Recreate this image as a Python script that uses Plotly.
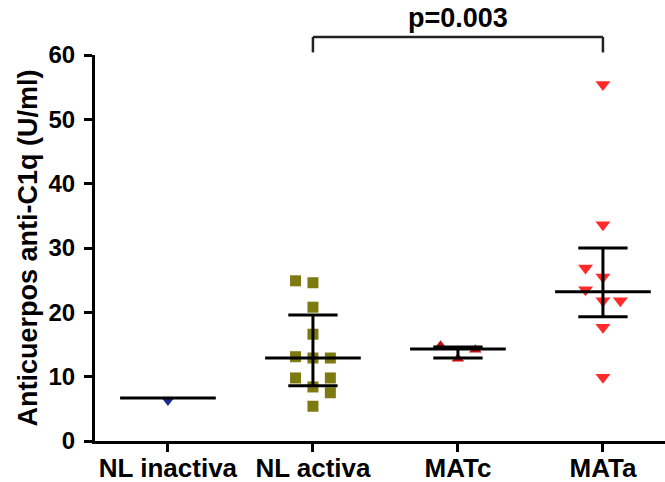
import plotly.graph_objects as go

# Groups shown on the x axis
categories = ["NL inactiva", "NL activa", "MATc", "MATa"]

# Anti-C1q antibody levels (U/ml) per group
nl_inactiva = [6.3]
nl_activa = [24.9, 24.6, 20.8, 16.6, 13.1, 12.9, 12.9, 9.8, 9.8, 8.4, 7.5, 5.4]
matc = [14.8, 14.2, 12.8]
mata = [55.4, 33.6, 26.9, 25.5, 23.5, 21.8, 21.8, 17.7, 9.9]

# Scatter column of each point inside its group (-1 left, 0 centre, +1 right)
nl_inactiva_col = [0]
nl_activa_col = [-1, 0, 0, 0, -1, 0, 1, -1, 1, 0, 1, 0]
matc_col = [-1, 1, 0]
mata_col = [0, 0, -1, 0, -1, 0, 1, 0, 0]

# Median and interquartile range per group
medians = [6.7, 12.9, 14.3, 23.2]
q1 = [None, 8.6, 12.9, 19.3]
q3 = [None, 19.6, 14.6, 30.0]

# Comparison bracket between NL activa and MATa
p_label = "p=0.003"
bracket_from, bracket_to = 1, 3
bracket_top, bracket_foot = 62.8, 60.4

y_ticks = [0, 10, 20, 30, 40, 50, 60]
Y_MAX = 60

COL_STEP = 0.12
MEDIAN_HALF = 0.33
CAP_HALF = 0.17
FONT = dict(family="Liberation Sans, Arial, sans-serif", color="black", weight="bold")

groups = [
    (nl_inactiva, nl_inactiva_col, "triangle-down", "#1c2a8c", 11),
    (nl_activa, nl_activa_col, "square", "#7d7a12", 11),
    (matc, matc_col, "triangle-up", "#c40f0f", 11),
    (mata, mata_col, "triangle-down", "#ff2b2b", 13),
]

fig = go.Figure()

for i, (vals, cols, sym, color, size) in enumerate(groups):
    fig.add_trace(go.Scatter(
        x=[i + c * COL_STEP for c in cols],
        y=vals,
        mode="markers",
        marker=dict(symbol=sym, color=color, size=size, line=dict(width=0)),
        showlegend=False,
        hoverinfo="y",
    ))

# Median lines, IQR whiskers and caps, drawn above the points
lx, ly = [], []
for i, m in enumerate(medians):
    lx += [i - MEDIAN_HALF, i + MEDIAN_HALF, None]
    ly += [m, m, None]
    if q1[i] is not None:
        lx += [i, i, None]
        ly += [q1[i], q3[i], None]
        for q in (q1[i], q3[i]):
            lx += [i - CAP_HALF, i + CAP_HALF, None]
            ly += [q, q, None]

fig.add_trace(go.Scatter(
    x=lx, y=ly, mode="lines",
    line=dict(color="black", width=3),
    showlegend=False, hoverinfo="skip",
))

# Significance bracket above the plot area
for x0, y0, x1, y1 in [
    (bracket_from, bracket_foot, bracket_from, bracket_top),
    (bracket_from, bracket_top, bracket_to, bracket_top),
    (bracket_to, bracket_top, bracket_to, bracket_foot),
]:
    fig.add_shape(
        type="line", xref="x", yref="paper",
        x0=x0, x1=x1, y0=y0 / Y_MAX, y1=y1 / Y_MAX,
        line=dict(color="#222222", width=2.5),
    )

fig.add_annotation(
    x=(bracket_from + bracket_to) / 2, xref="x",
    y=65.8 / Y_MAX, yref="paper",
    text=p_label, showarrow=False,
    xanchor="center", yanchor="middle",
    font=dict(size=27, **FONT),
)

fig.update_layout(
    width=665, height=482,
    margin=dict(l=95, r=0, t=55, b=41),
    paper_bgcolor="white", plot_bgcolor="white",
    showlegend=False,
)

fig.update_xaxes(
    range=[-0.503, 3.428],
    tickvals=list(range(len(categories))),
    ticktext=categories,
    showline=True, linecolor="black", linewidth=3,
    ticks="outside", ticklen=8, tickwidth=3, tickcolor="black",
    showgrid=False, zeroline=False,
    tickfont=dict(size=26, **FONT),
    ticklabelstandoff=-6,
    automargin=False,
)

fig.update_yaxes(
    range=[0, Y_MAX],
    tickvals=y_ticks,
    showline=True, linecolor="black", linewidth=3,
    ticks="outside", ticklen=8, tickwidth=3, tickcolor="black",
    showgrid=False, zeroline=False,
    tickfont=dict(size=24, **FONT),
    ticklabelstandoff=4,
    title=dict(text="Anticuerpos anti-C1q (U/ml)", font=dict(size=27, **FONT), standoff=4),
    automargin=False,
)

fig.write_html("out.html")
